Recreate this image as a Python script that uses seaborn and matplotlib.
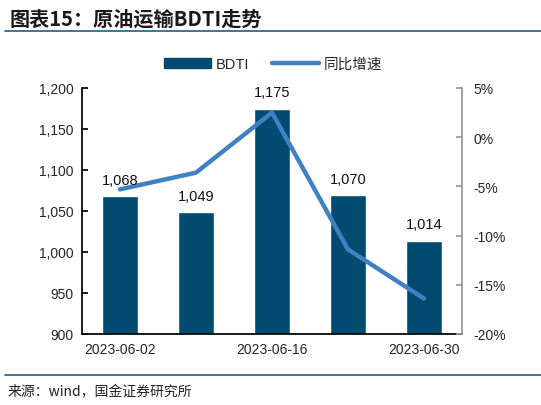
import matplotlib
matplotlib.use("Agg")
import matplotlib.pyplot as plt
import seaborn as sns
import numpy as np
import pandas as pd
from matplotlib.lines import Line2D
from matplotlib.patches import Patch

# data
dates = ["2023-06-02", "2023-06-09", "2023-06-16", "2023-06-23", "2023-06-30"]
bdti = [1068, 1049, 1175, 1070, 1014]
yoy = [-5.3, -3.6, 2.5, -11.4, -16.4]  # percent

bar_color = "#024B70"
line_color = "#4081C2"

sns.set_theme(style="white")
plt.rcParams['font.family'] = ['Liberation Sans', 'Noto Sans CJK SC', 'DejaVu Sans']
plt.rcParams['axes.unicode_minus'] = False

df = pd.DataFrame({"date": dates, "BDTI": bdti, "yoy": yoy, "pos": range(len(dates))})

fig = plt.figure(figsize=(5.41, 4.06), dpi=100)
ax = fig.add_axes([82 / 541, 1 - 335 / 406, (462 - 82) / 541, (335 - 89) / 406])

sns.barplot(data=df, x="date", y="BDTI", color=bar_color, width=0.47,
            saturation=1, ax=ax, zorder=2)

ax.set_ylim(900, 1200)
ax.set_yticks(np.arange(900, 1201, 50))
ax.set_yticklabels([f"{v:,}" for v in range(900, 1201, 50)], fontsize=10)
ax.set_xlim(-0.5, 4.5)
ax.set_xticks([0, 2, 4])
ax.set_xticklabels([dates[0], dates[2], dates[4]], fontsize=10)
ax.set_xticks(np.arange(-0.5, 4.6, 1), minor=True)
ax.tick_params(axis="x", which="major", length=0, pad=6)
ax.tick_params(axis="x", which="minor", direction="in", length=4, color="black")
ax.tick_params(axis="y", direction="in", length=4, left=True, color="black", pad=6)
ax.set_xlabel("")
ax.set_ylabel("")
for s in ["top", "right"]:
    ax.spines[s].set_visible(False)
ax.spines["left"].set_color("black")
ax.spines["bottom"].set_color("black")

ax2 = ax.twinx()
sns.lineplot(data=df, x="pos", y="yoy", color=line_color, linewidth=3.2, ax=ax2)
ax2.set_ylim(-20, 5)
ax2.set_yticks(np.arange(-20, 6, 5))
ax2.set_yticklabels([f"{v}%" for v in range(-20, 6, 5)], fontsize=10)
ax2.set_ylabel("")
ax2.tick_params(axis="y", direction="in", length=4, right=True, color="#999999", pad=8)
for s in ["top", "left", "bottom"]:
    ax2.spines[s].set_visible(False)
ax2.spines["right"].set_color("#999999")
ax2.set_xlim(-0.5, 4.5)

# bar value labels, drawn above the line
for p, v in zip(ax.patches, bdti):
    ax2.text(p.get_x() + p.get_width() / 2, v + 11, f"{v:,}", ha="center", va="bottom",
             fontsize=10.5, color="#111111", transform=ax.transData, zorder=5)

handles = [Patch(facecolor=bar_color, edgecolor=bar_color, label="BDTI"),
           Line2D([0], [0], color=line_color, lw=3.2, label="同比增速")]
fig.legend(handles=handles, loc="center", bbox_to_anchor=(273 / 541, 1 - 65 / 406),
           ncol=2, frameon=False, fontsize=10.5, handlelength=3.2, columnspacing=1.6,
           handletextpad=0.3)

# title, rules and source
fig.text(10 / 541, 1 - 19 / 406, "图表15：原油运输BDTI走势", fontsize=14.5, fontweight="bold",
         fontstyle="italic", color="#1a1a1a", va="center", ha="left",
         family=['Noto Sans CJK SC', 'DejaVu Sans'])
fig.add_artist(Line2D([5 / 541, 1], [1 - 32 / 406] * 2, color="#1F5F8B", lw=1.2))
fig.add_artist(Line2D([5 / 541, 1], [1 - 376 / 406] * 2, color="#1F5F8B", lw=1.2))
fig.text(8 / 541, 1 - 392 / 406, "来源：wind，国金证券研究所", fontsize=10, color="#222222",
         va="center", ha="left", family=['Noto Sans CJK SC', 'DejaVu Sans'])

fig.savefig("out.png", dpi=100)
